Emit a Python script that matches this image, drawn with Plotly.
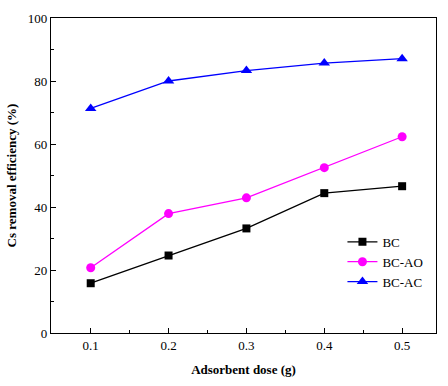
import plotly.graph_objects as go

dose = [0.1, 0.2, 0.3, 0.4, 0.5]
bc = [15.8, 24.6, 33.2, 44.4, 46.6]
bc_ao = [20.7, 37.9, 42.9, 52.5, 62.3]
bc_ac = [71.3, 80.0, 83.3, 85.7, 87.1]
x_ticks = [0.1, 0.2, 0.3, 0.4, 0.5]
y_ticks = [0, 20, 40, 60, 80, 100]

font = "Liberation Serif, Times New Roman, serif"
fig = go.Figure()
fig.add_trace(go.Scatter(x=dose, y=bc, name="BC", mode="lines+markers",
                         line=dict(color="black", width=1.3),
                         marker=dict(symbol="square", size=8, color="black")))
fig.add_trace(go.Scatter(x=dose, y=bc_ao, name="BC-AO", mode="lines+markers",
                         line=dict(color="#ff00ff", width=1.3),
                         marker=dict(symbol="circle", size=9, color="#ff00ff")))
fig.add_trace(go.Scatter(x=dose, y=bc_ac, name="BC-AC", mode="lines+markers",
                         line=dict(color="#0000ff", width=1.3),
                         marker=dict(symbol="triangle-up", size=10, color="#0000ff")))

fig.update_layout(
    width=448, height=386,
    margin=dict(l=45, r=11, t=11, b=51),
    paper_bgcolor="white", plot_bgcolor="white",
    font=dict(family=font, size=13, color="black"),
    showlegend=True,
    legend=dict(x=0.757, y=0.337, xanchor="left", yanchor="top",
                bgcolor="rgba(0,0,0,0)", font=dict(size=13), itemwidth=30,
                tracegroupgap=0),
    xaxis=dict(range=[0.049, 0.5435], tickvals=x_ticks, ticktext=[str(v) for v in x_ticks],
               ticks="inside", ticklen=5, tickwidth=1, tickcolor="black",
               showline=True, linecolor="black", linewidth=1.3, mirror=True,
               showgrid=False, zeroline=False,
               minor=dict(tickvals=[0.15, 0.25, 0.35, 0.45], ticks="inside", ticklen=3, tickcolor="black"),
               title=dict(text="<b>Adsorbent dose (g)</b>", font=dict(size=13), standoff=13)),
    yaxis=dict(range=[0, 100], tickvals=y_ticks,
               ticks="inside", ticklen=5, tickwidth=1, tickcolor="black",
               showline=True, linecolor="black", linewidth=1.3, mirror=True,
               showgrid=False, zeroline=False,
               minor=dict(tickvals=[10, 30, 50, 70, 90], ticks="inside", ticklen=3, tickcolor="black"),
               title=dict(text="<b>Cs removal efficiency (%)</b>", font=dict(size=13), standoff=8)),
)
fig.write_html("out.html")
